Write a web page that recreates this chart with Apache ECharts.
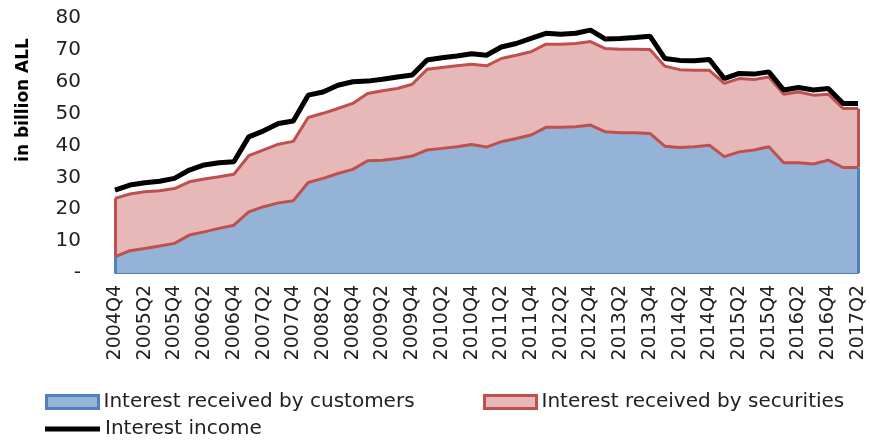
<!DOCTYPE html>
<html>
<head>
<meta charset="utf-8">
<script src="https://cdn.jsdelivr.net/npm/echarts@6/dist/echarts.min.js"></script>
<style>
    html, body { margin: 0; padding: 0; background: #fff; }
    #chart { width: 870px; height: 440px; }
</style>
</head>
<body>
<div id="chart"></div>
<script>
    var quarters = ['2004Q4',
        '2005Q1', '2005Q2', '2005Q3', '2005Q4', '2006Q1', '2006Q2', '2006Q3', '2006Q4',
        '2007Q1', '2007Q2', '2007Q3', '2007Q4', '2008Q1', '2008Q2', '2008Q3', '2008Q4',
        '2009Q1', '2009Q2', '2009Q3', '2009Q4', '2010Q1', '2010Q2', '2010Q3', '2010Q4',
        '2011Q1', '2011Q2', '2011Q3', '2011Q4', '2012Q1', '2012Q2', '2012Q3', '2012Q4',
        '2013Q1', '2013Q2', '2013Q3', '2013Q4', '2014Q1', '2014Q2', '2014Q3', '2014Q4',
        '2015Q1', '2015Q2', '2015Q3', '2015Q4', '2016Q1', '2016Q2', '2016Q3', '2016Q4',
        '2017Q1', '2017Q2'];

    var yTicks = [0, 10, 20, 30, 40, 50, 60, 70, 80];

    // in billion ALL
    var customers = [5.1, 7.0, 7.7, 8.5, 9.3, 11.9, 12.9, 14.0, 15.0, 19.2,
        20.8, 22.0, 22.7, 28.4, 29.7, 31.2, 32.5, 35.2, 35.4, 35.9,
        36.7, 38.6, 39.1, 39.6, 40.3, 39.5, 41.2, 42.2, 43.3, 45.7,
        45.7, 45.9, 46.4, 44.3, 44.0, 44.0, 43.8, 39.8, 39.4, 39.6,
        40.1, 36.5, 38.0, 38.6, 39.6, 34.6, 34.6, 34.2, 35.4, 33.1, 33.1];

    var securities = [18.3, 17.8, 17.8, 17.3, 17.2, 16.7, 16.6, 16.2, 16.0, 17.6,
        17.8, 18.4, 18.6, 20.4, 20.4, 20.4, 20.7, 21.1, 21.8, 22.0,
        22.5, 25.3, 25.4, 25.4, 25.2, 25.5, 26.1, 26.1, 26.1, 26.1,
        26.1, 26.1, 26.2, 26.1, 26.2, 26.2, 26.3, 25.1, 24.4, 24.0,
        23.5, 23.0, 23.0, 22.1, 21.9, 21.5, 22.2, 21.6, 20.7, 18.5, 18.5];

    var income = [26.0, 27.6, 28.3, 28.8, 29.7, 32.3, 33.9, 34.6, 34.9, 42.7,
        44.6, 46.9, 47.7, 55.8, 56.8, 58.9, 60.0, 60.2, 60.8, 61.5,
        62.1, 66.8, 67.5, 68.1, 68.8, 68.3, 70.9, 72.0, 73.6, 75.2,
        74.9, 75.2, 76.2, 73.4, 73.6, 73.9, 74.3, 67.3, 66.7, 66.6,
        67.0, 61.0, 62.6, 62.4, 63.1, 57.4, 58.2, 57.4, 57.9, 53.2, 53.2];

    var names = ['Interest received by customers', 'Interest received by securities', 'Interest income'];

    var font = 'DejaVu Sans';
    var last = quarters.length - 1;

    // closing edges of the areas, like the excel outline
    function edge(i, from, to) {
        return [{ coord: [quarters[i], from] }, { coord: [quarters[i], to] }];
    }

    var chart = echarts.init(document.getElementById('chart'), null, { renderer: 'canvas' });
    var option = {
        animation: false,
        grid: { left: 115, right: 12, top: 18, bottom: 167 },
        graphic: [{
            type: 'text',
            x: 24,
            y: 100,
            rotation: Math.PI / 2,
            style: {
                text: 'in billion ALL',
                font: 'bold 17px ' + font,
                fill: '#000',
                align: 'center',
                verticalAlign: 'middle'
            }
        }],
        legend: [{
            left: 45, top: 392, padding: 0,
            itemWidth: 52, itemHeight: 13, selectedMode: false,
            textStyle: { fontFamily: font, fontSize: 20, color: '#222' },
            data: [{ name: names[0], icon: 'rect', itemStyle: { color: '#95b3d7', borderColor: '#4f81bd', borderWidth: 3 } }]
        }, {
            left: 483, top: 392, padding: 0,
            itemWidth: 52, itemHeight: 13, selectedMode: false,
            textStyle: { fontFamily: font, fontSize: 20, color: '#222' },
            data: [{ name: names[1], icon: 'rect', itemStyle: { color: '#e6b9b8', borderColor: '#c0504d', borderWidth: 3 } }]
        }, {
            left: 45, top: 419, padding: 0,
            itemWidth: 55, itemHeight: 5, selectedMode: false,
            textStyle: { fontFamily: font, fontSize: 20, color: '#222' },
            data: [{ name: names[2], icon: 'rect', itemStyle: { color: '#000' } }]
        }],
        xAxis: {
            type: 'category',
            data: quarters,
            boundaryGap: false,
            axisTick: { show: false },
            axisLine: { lineStyle: { color: '#4f81bd', width: 2 } },
            axisLabel: {
                interval: 1,
                rotate: 90,
                margin: 12,
                fontFamily: font,
                fontSize: 19,
                color: '#222'
            }
        },
        yAxis: {
            type: 'value',
            min: 0,
            max: 80,
            interval: 10,
            axisLine: { show: false },
            axisTick: { show: false },
            splitLine: { show: false },
            axisLabel: {
                margin: 34,
                fontFamily: font,
                fontSize: 20,
                color: '#222',
                formatter: function(v) {
                    return yTicks.indexOf(v) === 0 ? '-' : String(v);
                }
            }
        },
        series: [{
            name: names[0],
            type: 'line',
            stack: 'total',
            symbol: 'none',
            data: customers,
            itemStyle: { color: '#95b3d7' },
            lineStyle: { color: '#c0504d', width: 3 },
            areaStyle: { color: '#95b3d7', opacity: 1 },
            z: 2,
            markLine: {
                silent: true,
                symbol: 'none',
                label: { show: false },
                lineStyle: { color: '#4f81bd', width: 3, type: 'solid' },
                data: [edge(0, 0, customers[0]), edge(last, 0, customers[last])]
            }
        }, {
            name: names[1],
            type: 'line',
            stack: 'total',
            symbol: 'none',
            data: securities,
            itemStyle: { color: '#e6b9b8' },
            lineStyle: { color: '#c0504d', width: 3 },
            areaStyle: { color: '#e6b9b8', opacity: 1 },
            z: 2,
            markLine: {
                silent: true,
                symbol: 'none',
                label: { show: false },
                lineStyle: { color: '#c0504d', width: 3, type: 'solid' },
                data: [
                    edge(0, customers[0], customers[0] + securities[0]),
                    edge(last, customers[last], customers[last] + securities[last])
                ]
            }
        }, {
            name: names[2],
            type: 'line',
            symbol: 'none',
            data: income,
            itemStyle: { color: '#000' },
            lineStyle: { color: '#000', width: 5 },
            z: 3
        }]
    };
    chart.setOption(option);
</script>
</body>
</html>
